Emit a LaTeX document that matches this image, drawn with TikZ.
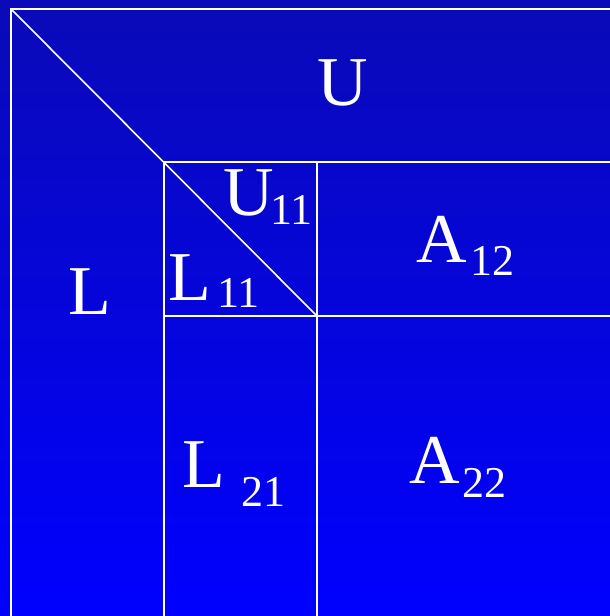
\documentclass[tikz,border=0pt]{standalone}
\usepackage{fontspec}
\setmainfont{Liberation Serif}
\begin{document}
\begin{tikzpicture}[x=1pt, y=-1pt,
    grid line/.style={white, line width=1.6pt},
    letter/.style={white, inner sep=0pt, anchor=base west, font=\fontsize{70}{70}\selectfont},
    index/.style={white, inner sep=0pt, anchor=base west, font=\fontsize{44}{44}\selectfont}]
    % 背景渐变
    \shade[top color={rgb,255:red,10;green,10;blue,184}, bottom color={rgb,255:red,0;green,0;blue,255}] (0,0) rectangle (610,616);
    \useasboundingbox (0,0) rectangle (610,616);

    % 网格的角点
    \coordinate (o) at (11,9);
    \coordinate (lb) at (11,616);
    \coordinate (tr) at (610,9);
    \coordinate (p) at (164,162);
    \coordinate (q) at (317,316);
    \coordinate (pr) at (610,162);
    \coordinate (qr) at (610,316);
    \coordinate (pb) at (164,616);
    \coordinate (qb) at (317,616);

    % 分块线
    \draw[grid line] (lb) -- (o) -- (tr);
    \draw[grid line] (o) -- (q);
    \draw[grid line] (pb) -- (p) -- (pr);
    \draw[grid line] (qb) -- (q |- p);
    \draw[grid line] (p |- q) -- (qr);

    % 标注
    \node[letter] (U) at (317,105) {U};
    \node[letter] (L) at (68,314) {L};
    \node[letter] (U11) at (223,215) {U};
    \node[index] (U11i) at (270,224) {11};
    \node[letter] (L11) at (168,300) {L};
    \node[index] (L11i) at (217,307) {11};
    \node[letter] (A12) at (416,262) {A};
    \node[index] (A12i) at (470,275) {12};
    \node[letter] (L21) at (182,487) {L};
    \node[index] (L21i) at (241,506) {21};
    \node[letter] (A22) at (409,483) {A};
    \node[index] (A22i) at (462,497) {22};
\end{tikzpicture}
\end{document}
